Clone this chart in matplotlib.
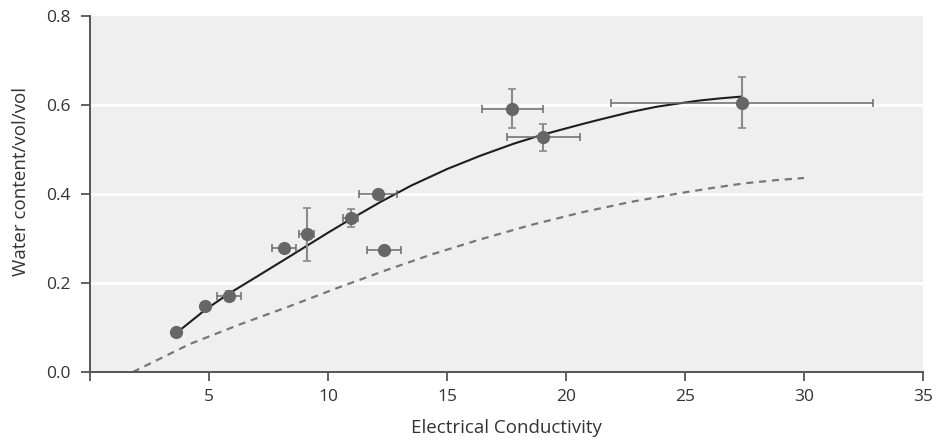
import matplotlib
matplotlib.use("Agg")
import matplotlib.pyplot as plt

# Measured data points
ec = [3.6, 4.85, 5.85, 8.15, 9.1, 10.95, 12.1, 12.35, 17.75, 19.05, 27.4]
wc = [0.089, 0.149, 0.171, 0.279, 0.309, 0.346, 0.401, 0.275, 0.592, 0.527, 0.605]
ec_err = [0.0, 0.0, 0.5, 0.5, 0.3, 0.3, 0.8, 0.73, 1.28, 1.55, 5.5]
wc_err = [0.0, 0.0, 0.012, 0.0, 0.059, 0.02, 0.0, 0.0, 0.044, 0.03, 0.057]

# Fitted curve (solid)
fit_x = [3.8, 4.85, 5.8, 7.0, 8.4, 10.0, 11.0, 12.2, 13.5, 15.0, 16.4, 17.8, 19.0,
         20.6, 21.4, 22.7, 23.8, 24.8, 25.6, 26.5, 27.4]
fit_y = [0.095, 0.140, 0.175, 0.214, 0.260, 0.313, 0.345, 0.382, 0.419, 0.456, 0.486,
         0.513, 0.533, 0.556, 0.567, 0.584, 0.596, 0.604, 0.610, 0.615, 0.619]

# Reference curve (dashed)
ref_x = [1.8, 4.2, 6.3, 8.4, 10.4, 12.4, 14.4, 16.4, 18.5, 20.6, 22.7, 24.8, 26.2, 27.5, 28.8, 30.0]
ref_y = [0.0, 0.063, 0.107, 0.148, 0.189, 0.228, 0.265, 0.298, 0.330, 0.358, 0.382, 0.402,
         0.414, 0.424, 0.431, 0.436]

xticks = [0, 5, 10, 15, 20, 25, 30, 35]
xticklabels = ["", "5", "10", "15", "20", "25", "30", "35"]
yticks = [0.0, 0.2, 0.4, 0.6, 0.8]
yticklabels = ["0.0", "0.2", "0.4", "0.6", "0.8"]

plt.rcParams['font.family'] = ['Open Sans', 'DejaVu Sans']

fig = plt.figure(figsize=(9.47, 4.45), dpi=100)
ax = fig.add_axes([90/947, 1-372/445, (923-90)/947, (372-16)/445])
ax.set_facecolor('#efefef')

for gy in [0.2, 0.4, 0.6]:
    ax.axhline(gy, color='white', lw=2.0, zorder=1)

ax.plot(ref_x, ref_y, color='#777777', lw=1.6, ls=(0, (3.2, 2.6)), zorder=2)
ax.plot(fit_x, fit_y, color='#1e1e1e', lw=1.5, zorder=3)

ax.errorbar(ec, wc, xerr=ec_err, fmt='none', ecolor='#6a6a6a',
            elinewidth=1.1, capsize=3, capthick=1.1, zorder=4)
ax.errorbar(ec, wc, yerr=wc_err, fmt='none', ecolor='#8a8a8a',
            elinewidth=1.5, capsize=3, capthick=1.2, zorder=4)
ax.plot(ec, wc, 'o', color='#666666', markersize=9.5, markeredgewidth=0, zorder=5)

ax.set_xlim(0, 35)
ax.set_ylim(0, 0.8)
ax.set_xticks(xticks)
ax.set_xticklabels(xticklabels)
ax.set_yticks(yticks)
ax.set_yticklabels(yticklabels)

for s in ['top', 'right']:
    ax.spines[s].set_visible(False)
for s in ['left', 'bottom']:
    ax.spines[s].set_color('#555555')
    ax.spines[s].set_linewidth(1.4)

ax.tick_params(axis='both', direction='out', length=6.5, width=1.3, color='#555555',
               labelsize=12.5, labelcolor='#333333', pad=6)
ax.tick_params(axis='y', pad=7.5)

ax.set_xlabel('Electrical Conductivity', fontsize=13.5, color='#333333', labelpad=10)
ax.set_ylabel('Water content/vol/vol', fontsize=13.5, color='#333333')
ax.yaxis.set_label_coords(-0.072, 0.534)

fig.savefig('out.png', dpi=100, facecolor='white')
